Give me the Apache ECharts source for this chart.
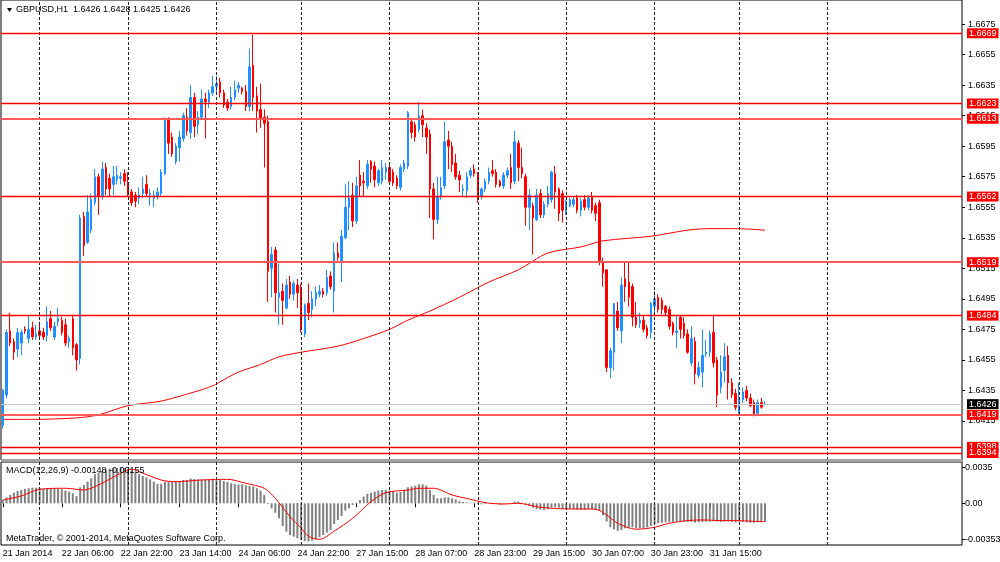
<!DOCTYPE html>
<html>
<head>
<meta charset="utf-8">
<script src="https://cdn.jsdelivr.net/npm/echarts@6/dist/echarts.min.js"></script>
<style>html,body{margin:0;padding:0;background:#fff}#c{width:1000px;height:562px}</style>
</head>
<body>
<div id="c"></div>
<script>
// ---- data ----
// hourly candles [open, close, low, high]
const ohlc = [
[1.6412,1.6435,1.6410,1.6436],[1.6432,1.6473,1.6430,1.6475],[1.6474,1.6466,1.6464,1.6486],[1.6467,1.6460,1.6455,1.6469],[1.6462,1.6473,1.6457,1.6476],
[1.6466,1.6473,1.6458,1.6475],[1.6475,1.6474,1.6472,1.6477],[1.6469,1.6475,1.6466,1.6484],[1.6476,1.6470,1.6468,1.6480],[1.6470,1.6472,1.6468,1.6478],
[1.6474,1.6471,1.6469,1.6480],[1.6473,1.6470,1.6468,1.6476],[1.6471,1.6480,1.6467,1.6490],[1.6482,1.6476,1.6474,1.6487],[1.6470,1.6477,1.6468,1.6480],
[1.6480,1.6482,1.6477,1.6489],[1.6481,1.6473,1.6471,1.6483],[1.6478,1.6466,1.6464,1.6482],[1.6467,1.6469,1.6463,1.6471],[1.6482,1.6463,1.6458,1.6484],
[1.6465,1.6455,1.6448,1.6466],[1.6456,1.6548,1.6452,1.6550],[1.6549,1.6530,1.6523,1.6552],[1.6532,1.6552,1.6531,1.6563],[1.6540,1.6560,1.6538,1.6564],
[1.6558,1.6575,1.6556,1.6580],[1.6575,1.6562,1.6550,1.6577],[1.6562,1.6580,1.6560,1.6585],[1.6581,1.6567,1.6563,1.6584],[1.6574,1.6567,1.6562,1.6577],
[1.6570,1.6575,1.6563,1.6582],[1.6573,1.6576,1.6570,1.6582],[1.6574,1.6575,1.6570,1.6578],[1.6577,1.6572,1.6569,1.6580],[1.6571,1.6564,1.6562,1.6578],
[1.6565,1.6558,1.6556,1.6567],[1.6563,1.6559,1.6555,1.6565],[1.6561,1.6563,1.6557,1.6568],[1.6564,1.6567,1.6561,1.6575],[1.6570,1.6564,1.6562,1.6576],
[1.6563,1.6564,1.6556,1.6567],[1.6561,1.6563,1.6555,1.6566],[1.6562,1.6565,1.6560,1.6568],[1.6564,1.6578,1.6562,1.6580],[1.6577,1.6612,1.6576,1.6614],
[1.6612,1.6597,1.6590,1.6614],[1.6601,1.6590,1.6588,1.6604],[1.6585,1.6595,1.6583,1.6597],[1.6594,1.6601,1.6585,1.6605],[1.6600,1.6615,1.6598,1.6617],
[1.6614,1.6605,1.6602,1.6620],[1.6604,1.6627,1.6600,1.6635],[1.6627,1.6608,1.6601,1.6630],[1.6609,1.6614,1.6603,1.6618],[1.6614,1.6626,1.6612,1.6632],
[1.6626,1.6624,1.6600,1.6630],[1.6624,1.6630,1.6620,1.6632],[1.6630,1.6634,1.6628,1.6641],[1.6634,1.6636,1.6630,1.6641],[1.6637,1.6630,1.6627,1.6640],
[1.6630,1.6622,1.6620,1.6632],[1.6624,1.6620,1.6618,1.6626],[1.6621,1.6627,1.6619,1.6634],[1.6627,1.6632,1.6625,1.6638],[1.6633,1.6635,1.6630,1.6637],
[1.6633,1.6631,1.6629,1.6634],[1.6631,1.6621,1.6618,1.6635],[1.6621,1.6647,1.6618,1.6659],[1.6648,1.6627,1.6618,1.6668],[1.6628,1.6618,1.6604,1.6634],
[1.6619,1.6613,1.6607,1.6636],[1.6614,1.6610,1.6581,1.6619],[1.6611,1.6513,1.6493,1.6615],[1.6515,1.6524,1.6496,1.6529],[1.6527,1.6499,1.6486,1.6529],
[1.6496,1.6499,1.6478,1.6518],[1.6500,1.6494,1.6478,1.6505],[1.6489,1.6504,1.6488,1.6508],[1.6506,1.6498,1.6495,1.6510],[1.6498,1.6505,1.6494,1.6507],
[1.6504,1.6499,1.6489,1.6508],[1.6502,1.6476,1.6473,1.6505],[1.6472,1.6491,1.6470,1.6492],[1.6492,1.6486,1.6481,1.6505],[1.6488,1.6495,1.6483,1.6500],
[1.6495,1.6499,1.6490,1.6503],[1.6498,1.6500,1.6496,1.6504],[1.6500,1.6498,1.6496,1.6502],[1.6499,1.6509,1.6497,1.6514],[1.6510,1.6503,1.6501,1.6513],
[1.6500,1.6525,1.6486,1.6532],[1.6525,1.6522,1.6520,1.6532],[1.6519,1.6536,1.6506,1.6540],[1.6535,1.6555,1.6534,1.6570],[1.6555,1.6561,1.6540,1.6572],
[1.6563,1.6546,1.6542,1.6571],[1.6546,1.6569,1.6544,1.6575],[1.6576,1.6569,1.6562,1.6586],[1.6572,1.6571,1.6562,1.6578],[1.6569,1.6583,1.6567,1.6586],
[1.6585,1.6580,1.6571,1.6586],[1.6582,1.6573,1.6568,1.6585],[1.6571,1.6579,1.6569,1.6580],[1.6572,1.6581,1.6570,1.6586],[1.6578,1.6581,1.6573,1.6584],
[1.6581,1.6572,1.6570,1.6584],[1.6578,1.6571,1.6569,1.6580],[1.6574,1.6569,1.6567,1.6576],[1.6568,1.6581,1.6566,1.6583],[1.6580,1.6584,1.6578,1.6586],
[1.6582,1.6617,1.6580,1.6618],[1.6611,1.6604,1.6600,1.6613],[1.6609,1.6601,1.6598,1.6611],[1.6606,1.6615,1.6604,1.6624],[1.6615,1.6609,1.6601,1.6619],
[1.6607,1.6601,1.6590,1.6610],[1.6603,1.6567,1.6548,1.6606],[1.6567,1.6547,1.6534,1.6571],[1.6547,1.6562,1.6544,1.6575],[1.6562,1.6568,1.6560,1.6575],
[1.6569,1.6598,1.6567,1.6611],[1.6599,1.6595,1.6580,1.6605],[1.6595,1.6583,1.6578,1.6598],[1.6584,1.6575,1.6573,1.6590],[1.6576,1.6573,1.6565,1.6579],
[1.6566,1.6567,1.6562,1.6570],[1.6566,1.6575,1.6561,1.6578],[1.6576,1.6579,1.6574,1.6581],[1.6580,1.6577,1.6575,1.6583],[1.6576,1.6562,1.6558,1.6578],
[1.6562,1.6567,1.6560,1.6568],[1.6567,1.6572,1.6565,1.6574],[1.6572,1.6578,1.6570,1.6581],[1.6579,1.6577,1.6575,1.6586],[1.6578,1.6570,1.6568,1.6580],
[1.6572,1.6569,1.6568,1.6573],[1.6569,1.6576,1.6567,1.6578],[1.6576,1.6579,1.6574,1.6581],[1.6581,1.6571,1.6567,1.6590],[1.6572,1.6598,1.6570,1.6605],
[1.6597,1.6581,1.6572,1.6599],[1.6581,1.6577,1.6574,1.6594],[1.6575,1.6555,1.6543,1.6577],[1.6555,1.6563,1.6540,1.6567],[1.6556,1.6548,1.6524,1.6558],
[1.6547,1.6563,1.6546,1.6567],[1.6564,1.6550,1.6548,1.6567],[1.6550,1.6557,1.6548,1.6559],[1.6557,1.6564,1.6555,1.6569],[1.6560,1.6578,1.6558,1.6579],
[1.6577,1.6565,1.6554,1.6582],[1.6567,1.6551,1.6546,1.6568],[1.6564,1.6553,1.6545,1.6566],[1.6552,1.6559,1.6550,1.6560],[1.6556,1.6560,1.6555,1.6561],
[1.6557,1.6560,1.6555,1.6562],[1.6561,1.6553,1.6551,1.6563],[1.6553,1.6559,1.6549,1.6561],[1.6560,1.6555,1.6553,1.6563],[1.6555,1.6561,1.6553,1.6563],
[1.6562,1.6553,1.6551,1.6565],[1.6556,1.6551,1.6546,1.6558],[1.6558,1.6520,1.6517,1.6560],[1.6519,1.6512,1.6503,1.6522],[1.6514,1.6450,1.6447,1.6514],
[1.6450,1.6461,1.6443,1.6463],[1.6460,1.6492,1.6448,1.6492],[1.6487,1.6476,1.6474,1.6493],[1.6474,1.6504,1.6466,1.6509],[1.6508,1.6503,1.6493,1.6519],
[1.6506,1.6496,1.6490,1.6519],[1.6503,1.6483,1.6477,1.6505],[1.6483,1.6478,1.6476,1.6493],[1.6479,1.6481,1.6476,1.6486],[1.6481,1.6475,1.6473,1.6484],
[1.6476,1.6471,1.6469,1.6478],[1.6473,1.6492,1.6469,1.6493],[1.6490,1.6495,1.6485,1.6500],[1.6496,1.6488,1.6486,1.6498],[1.6494,1.6488,1.6485,1.6496],
[1.6490,1.6486,1.6484,1.6491],[1.6488,1.6477,1.6475,1.6490],[1.6479,1.6473,1.6471,1.6480],[1.6473,1.6474,1.6463,1.6484],[1.6483,1.6475,1.6469,1.6484],
[1.6479,1.6471,1.6469,1.6483],[1.6472,1.6460,1.6459,1.6475],[1.6453,1.6469,1.6451,1.6477],[1.6467,1.6446,1.6439,1.6470],[1.6445,1.6450,1.6443,1.6454],
[1.6447,1.6458,1.6437,1.6475],[1.6459,1.6460,1.6457,1.6468],[1.6460,1.6472,1.6457,1.6474],[1.6473,1.6453,1.6450,1.6484],[1.6455,1.6432,1.6424,1.6457],
[1.6437,1.6447,1.6433,1.6458],[1.6448,1.6457,1.6440,1.6466],[1.6458,1.6440,1.6429,1.6464],[1.6440,1.6432,1.6430,1.6443],[1.6433,1.6424,1.6422,1.6436],
[1.6420,1.6429,1.6419,1.6440],[1.6429,1.6434,1.6427,1.6437],[1.6435,1.6430,1.6428,1.6438],[1.6430,1.6425,1.6424,1.6433],[1.6427,1.6419,1.6418,1.6429],
[1.6420,1.6427,1.6419,1.6429],[1.6427,1.6424,1.6423,1.6430],[1.6426,1.6426,1.6425,1.6428]
];
// moving average read at points [barIndex, price]
const maPoints = [[0,1.6416],[8,1.6416],[20,1.6417],[26,1.6419],[34,1.6425],[43,1.6428],[52,1.6434],[57,1.6438],[60,1.6442],[64,1.6447],[70,1.6452],[75,1.6457],[81,1.6460],[91,1.6464],[98,1.6469],[105,1.6475],[110,1.6481],[116,1.6487],[124,1.6496],[132,1.6506],[140,1.6514],[148,1.6525],[157,1.6529],[163,1.6533],[176,1.6536],[186,1.6540],[192,1.6541],[199,1.6541],[207,1.6540]];
// MACD main (histogram), one per candle
const macdHist = [
0.00032,0.00058,0.00081,0.00103,0.00120,0.00129,0.00139,0.00146,0.00152,0.00152,
0.00149,0.00142,0.00146,0.00149,0.00142,0.00139,0.00136,0.00123,0.00113,0.00097,
0.00071,0.00155,0.00178,0.00210,0.00243,0.00282,0.00298,0.00317,0.00330,0.00337,
0.00340,0.00343,0.00346,0.00343,0.00330,0.00317,0.00298,0.00282,0.00265,0.00252,
0.00233,0.00210,0.00188,0.00188,0.00210,0.00210,0.00210,0.00210,0.00217,0.00227,
0.00227,0.00240,0.00236,0.00233,0.00233,0.00233,0.00233,0.00240,0.00236,0.00227,
0.00217,0.00207,0.00194,0.00188,0.00184,0.00184,0.00175,0.00168,0.00162,0.00146,
0.00123,0.00081,-0.00007,-0.00049,-0.00091,-0.00146,-0.00221,-0.00276,-0.00308,-0.00324,
-0.00340,-0.00356,-0.00366,-0.00369,-0.00363,-0.00350,-0.00330,-0.00308,-0.00285,-0.00260,
-0.00200,-0.00162,-0.00123,-0.00071,-0.00048,-0.00016,0.00006,0.00032,0.00065,0.00091,
0.00103,0.00113,0.00123,0.00129,0.00129,0.00123,0.00113,0.00103,0.00110,0.00129,
0.00155,0.00162,0.00171,0.00184,0.00184,0.00171,0.00129,0.00081,0.00049,0.00049,
0.00058,0.00058,0.00049,0.00038,0.00022,0.00013,0.00010,0.00006,0.00006,-0.00007,
-0.00010,-0.00007,0.00000,0.00000,-0.00007,-0.00013,-0.00010,-0.00007,0.00000,0.00016,
0.00016,0.00006,-0.00010,-0.00026,-0.00042,-0.00055,-0.00062,-0.00065,-0.00058,-0.00042,
-0.00039,-0.00042,-0.00048,-0.00055,-0.00055,-0.00058,-0.00062,-0.00065,-0.00065,-0.00058,
-0.00055,-0.00058,-0.00071,-0.00114,-0.00178,-0.00233,-0.00253,-0.00266,-0.00259,-0.00243,
-0.00233,-0.00233,-0.00243,-0.00243,-0.00243,-0.00233,-0.00220,-0.00201,-0.00194,-0.00188,
-0.00185,-0.00185,-0.00181,-0.00178,-0.00178,-0.00178,-0.00181,-0.00181,-0.00188,-0.00185,
-0.00181,-0.00178,-0.00178,-0.00175,-0.00178,-0.00181,-0.00178,-0.00178,-0.00181,-0.00185,
-0.00178,-0.00181,-0.00185,-0.00188,-0.00188,-0.00185,-0.00185,-0.00181
];
// MACD signal read at points [barIndex, value]
const signalPoints = [[0,0.00032],[5,0.00071],[10,0.00136],[17,0.00146],[22,0.00129],[26,0.00178],[32,0.00291],[35,0.0033],[37,0.00307],[43,0.00226],[47,0.0021],[54,0.00226],[61,0.00233],[66,0.00194],[71,0.00146],[74,0.00049],[78,-0.0013],[81,-0.0024],[83,-0.0032],[86,-0.0035],[90,-0.0027],[95,-0.00146],[100,0.00016],[104,0.00103],[110,0.00129],[113,0.00146],[117,0.00146],[122,0.00081],[127,0.00039],[131,0.00006],[136,-0.00007],[140,0.0],[145,-0.00033],[149,-0.00048],[154,-0.00055],[158,-0.00055],[161,-0.00058],[164,-0.00113],[167,-0.00194],[172,-0.00252],[177,-0.00233],[181,-0.00194],[186,-0.00168],[190,-0.00162],[195,-0.00168],[199,-0.00168],[204,-0.00175],[207,-0.00178]];

const slotCount = 261; // chart width in bar slots (incl. empty future area)
const timeTickIndex = [0,16,32,48,64,80,96,112,128,144,160,176,192];
const timeTickLabels = ['21 Jan 2014','22 Jan 06:00','22 Jan 22:00','23 Jan 14:00','24 Jan 06:00','24 Jan 22:00','27 Jan 15:00','28 Jan 07:00','28 Jan 23:00','29 Jan 15:00','30 Jan 07:00','30 Jan 23:00','31 Jan 15:00'];
const daySeparatorIndex = [10,34,58,81,105,129,153,177,200,224];
const priceTicks = [1.6675,1.6655,1.6635,1.6615,1.6595,1.6575,1.6555,1.6535,1.6515,1.6495,1.6475,1.6455,1.6435,1.6415];
const priceLevels = [1.6669,1.6623,1.6613,1.6562,1.6519,1.6484,1.6419,1.6398,1.6394];
const thickLevels = [1.6613,1.6519,1.6419];
const currentPrice = 1.6426;
const macdTicks = [0.0035, 0, -0.00353];
const macdTickLabels = ['0.0035','0.00','-0.00353'];
const headerText = 'GBPUSD,H1  1.6426 1.6428 1.6425 1.6426';
const macdText = 'MACD(12,26,9) -0.00148 -0.00155';
const copyText = 'MetaTrader, \u00A9 2001-2014, MetaQuotes Software Corp.';

// ---- chart ----
const FONT = 'Liberation Sans';
const FS = 9;
const categories = Array.from({length: slotCount}, (_, i) => String(i));
const tickSet = new Set(timeTickIndex);

const chart = echarts.init(document.getElementById('c'), null, {renderer: 'canvas'});

const levelLines = priceLevels.map(v => ({
  yAxis: v,
  lineStyle: thickLevels.includes(v)
    ? {color: 'rgb(255,90,90)', width: 2, type: 'solid', opacity: 1}
    : {color: 'rgb(255,0,0)', width: 1.3, type: 'solid', opacity: 1},
  label: {backgroundColor: 'rgb(255,0,0)', color: '#fff'}
}));
levelLines.push({
  yAxis: currentPrice,
  lineStyle: {color: '#c8c8c8', width: 1, type: 'solid', opacity: 1},
  label: {backgroundColor: '#000', color: '#fff'}
});

const dayLines = daySeparatorIndex.map(i => ({xAxis: i}));

const option = {
  animation: false,
  backgroundColor: '#fff',
  textStyle: {fontFamily: FONT},
  grid: [
    {left: 1, top: 0, width: 961, height: 460, show: true, borderColor: '#000', borderWidth: 1, backgroundColor: 'transparent', outerBoundsMode: 'none', containLabel: false},
    {left: 1, top: 462, width: 961, height: 83, show: true, borderColor: '#000', borderWidth: 1, backgroundColor: 'transparent', outerBoundsMode: 'none', containLabel: false}
  ],
  xAxis: [
    {type: 'category', gridIndex: 0, data: categories, boundaryGap: true,
     axisLine: {show: false}, axisTick: {show: false}, axisLabel: {show: false}, splitLine: {show: false}},
    {type: 'category', gridIndex: 1, data: categories, boundaryGap: true,
     axisLine: {show: false},
     axisTick: {show: true, length: 4, alignWithLabel: true, interval: (idx) => tickSet.has(idx), lineStyle: {color: '#000'}},
     axisLabel: {show: true, interval: (idx) => tickSet.has(idx), align: 'left', margin: 4, color: '#000', fontSize: FS, fontFamily: FONT,
       formatter: (v) => { const k = timeTickIndex.indexOf(Number(v)); return k >= 0 ? timeTickLabels[k] : ''; }},
     splitLine: {show: false}}
  ],
  yAxis: [
    {type: 'value', gridIndex: 0, position: 'right', min: 1.63894, max: 1.66908,
     axisLine: {show: false},
     axisTick: {show: true, length: 3, customValues: priceTicks, lineStyle: {color: '#000'}},
     axisLabel: {show: true, customValues: priceTicks, margin: 6, color: '#000', fontSize: FS, fontFamily: FONT, formatter: v => v.toFixed(4)},
     splitLine: {show: false}},
    {type: 'value', gridIndex: 1, position: 'right', min: -0.00405, max: 0.00401,
     axisLine: {show: false},
     axisTick: {show: true, length: 3, customValues: macdTicks, lineStyle: {color: '#000'}},
     axisLabel: {show: true, customValues: macdTicks, margin: 3, color: '#000', fontSize: FS, fontFamily: FONT,
       formatter: v => { let best = 0; macdTicks.forEach((t, k) => { if (Math.abs(t - v) < Math.abs(macdTicks[best] - v)) best = k; }); return macdTickLabels[best]; }},
     splitLine: {show: false}}
  ],
  graphic: [
    {type: 'polygon', shape: {points: [[7, 8], [12, 8], [9.5, 12]]}, style: {fill: '#000'}, z: 10},
    {type: 'text', x: 16, y: 10, style: {text: headerText, fill: '#000', font: FS + 'px "' + FONT + '"', textVerticalAlign: 'middle'}, z: 10},
    {type: 'text', x: 6, y: 471, style: {text: macdText, fill: '#000', font: FS + 'px "' + FONT + '"', textVerticalAlign: 'middle'}, z: 10},
    {type: 'text', x: 6, y: 539, style: {text: copyText, fill: '#000', font: FS + 'px "' + FONT + '"', textVerticalAlign: 'middle'}, z: 10},
    {type: 'rect', shape: {x: 1, y: 459, width: 962, height: 3}, style: {fill: '#a0a0a0'}, z: 10}
  ],
  series: [
    {
      name: 'MA', type: 'line', xAxisIndex: 0, yAxisIndex: 0, data: maPoints, z: 1,
      showSymbol: false, smooth: 0.3, lineStyle: {color: '#ff0000', width: 1},
      markLine: {silent: true, symbol: ['none', 'none'], label: {show: false},
        lineStyle: {color: '#222', width: 1, type: [3, 2]}, data: dayLines}
    },
    {
      name: 'GBPUSD', type: 'candlestick', xAxisIndex: 0, yAxisIndex: 0, data: ohlc, z: 2,
      barWidth: 2,
      itemStyle: {color: '#1e90ff', color0: '#ff0000', borderColor: '#1e90ff', borderColor0: '#ff0000', borderWidth: 1}
    },
    {
      name: 'Levels', type: 'line', xAxisIndex: 0, yAxisIndex: 0, data: [], z: 3,
      color: '#ff0000',
      markLine: {silent: true, symbol: ['none', 'none'], precision: 4,
        lineStyle: {color: 'rgb(255,0,0)', width: 1.3, type: 'solid', opacity: 1},
        label: {show: true, position: 'end', distance: 5, fontSize: FS, fontFamily: FONT, padding: [1, 2, 0, 2],
          formatter: p => Number(p.value).toFixed(4)},
        data: levelLines}
    },
    {
      name: 'MACD', type: 'bar', xAxisIndex: 1, yAxisIndex: 1, data: macdHist, z: 2,
      barWidth: 2, itemStyle: {color: '#808080'},
      markLine: {silent: true, symbol: ['none', 'none'], label: {show: false},
        lineStyle: {color: '#222', width: 1, type: [3, 2]}, data: dayLines}
    },
    {
      name: 'Signal', type: 'line', xAxisIndex: 1, yAxisIndex: 1, data: signalPoints, z: 3,
      showSymbol: false, smooth: 0.3, lineStyle: {color: '#ff0000', width: 1}
    }
  ]
};
chart.setOption(option);
</script>
</body>
</html>
